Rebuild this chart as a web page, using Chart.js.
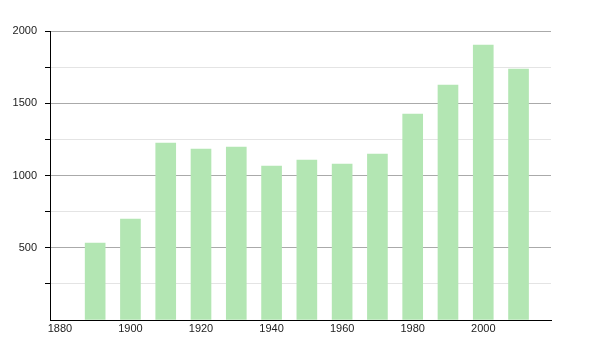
<!DOCTYPE html>
<html>
<head>
<meta charset="utf-8">
<script src="https://cdn.jsdelivr.net/npm/chart.js@4/dist/chart.umd.min.js"></script>
<style>
  body { margin: 0; background: #fff; }
  #wrap { width: 600px; height: 350px; }
</style>
</head>
<body>
<div id="wrap"><canvas id="popChart" width="600" height="350"></canvas></div>
<script>
// census years and population
const years = [1890, 1900, 1910, 1920, 1930, 1940, 1950, 1960, 1970, 1980, 1990, 2000, 2010];
const population = [532, 698, 1224, 1183, 1196, 1065, 1107, 1079, 1148, 1425, 1625, 1902, 1736];
const yLabels = [500, 1000, 1500, 2000];

const ctx = document.getElementById('popChart').getContext('2d');

new Chart(ctx, {
    type: 'bar',
    data: {
        datasets: [{
            data: years.map((yr, i) => ({ x: yr, y: population[i] })),
            backgroundColor: '#b3e6b3',
            borderWidth: 0,
            barThickness: 20,
        }]
    },
    options: {
        responsive: false,
        animation: false,
        layout: {
            padding: { top: 31, right: 49, left: 0, bottom: 0 }
        },
        scales: {
            x: {
                type: 'linear',
                offset: false,
                min: 1877.2,
                max: 2019.2,
                afterBuildTicks: (scale) => {
                    scale.ticks = [1880, 1900, 1920, 1940, 1960, 1980, 2000].map(v => ({ value: v }));
                },
                afterFit: (scale) => { scale.height = 30; },
                grid: {
                    display: true,
                    drawOnChartArea: false,
                    drawTicks: false,
                },
                border: { color: '#000', width: 1 },
                ticks: {
                    color: '#222',
                    font: { family: 'Liberation Sans', size: 11 },
                    padding: 2,
                    maxRotation: 0,
                    callback: (v) => String(v),
                }
            },
            y: {
                min: 0,
                max: 2000,
                afterFit: (scale) => { scale.width = 50; },
                grid: {
                    color: (c) => {
                        const v = c.tick.value;
                        if (v === 0) return 'rgba(0,0,0,0)';
                        return v % 500 === 0 ? '#aaaaaa' : '#e4e4e4';
                    },
                    tickColor: (c) => c.tick.value === 0 ? 'rgba(0,0,0,0)' : '#000',
                    tickLength: 5,
                },
                border: { color: '#000', width: 1 },
                ticks: {
                    stepSize: 250,
                    color: '#222',
                    padding: 8,
                    font: { family: 'Liberation Sans', size: 11 },
                    callback: (v) => yLabels.includes(v) ? String(v) : '',
                }
            }
        },
        plugins: {
            legend: { display: false },
            tooltip: { enabled: false }
        }
    }
});
</script>
</body>
</html>
